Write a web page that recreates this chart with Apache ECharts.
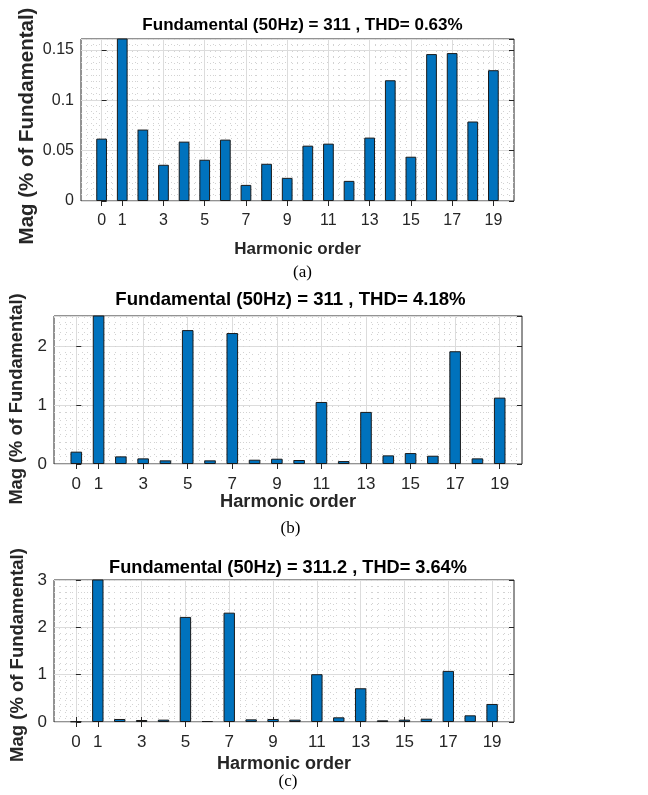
<!DOCTYPE html>
<html>
<head>
<meta charset="utf-8">
<script src="https://cdn.jsdelivr.net/npm/echarts@6/dist/echarts.min.js"></script>
<style>
html,body{margin:0;padding:0;background:#fff;}
#chart{width:648px;height:795px;}
</style>
</head>
<body>
<div id="chart"></div>
<script>
// ---- data ----
var harmonicOrder = [0,1,2,3,4,5,6,7,8,9,10,11,12,13,14,15,16,17,18,19];
var xTickLabels = [0,1,3,5,7,9,11,13,15,17,19];
var xRange = [-1, 20];

var titles = [
  'Fundamental (50Hz) = 311 , THD= 0.63%',
  'Fundamental (50Hz) = 311 , THD= 4.18%',
  'Fundamental (50Hz) = 311.2 , THD= 3.64%'
];
var captions = ['(a)', '(b)', '(c)'];
var yMax = [0.161, 2.52, 3];
var yInterval = [0.05, 1, 1];

var magA = [0.062, 100, 0.071, 0.036, 0.059, 0.041, 0.061, 0.016, 0.037, 0.023,
            0.055, 0.057, 0.020, 0.063, 0.120, 0.044, 0.146, 0.147, 0.079, 0.130];
var magB = [0.21, 100, 0.13, 0.096, 0.062, 2.28, 0.062, 2.23, 0.073, 0.09,
            0.068, 1.056, 0.05, 0.887, 0.147, 0.186, 0.141, 1.92, 0.096, 1.13];
var magC = [0.012, 100, 0.064, 0.042, 0.05, 2.22, 0.02, 2.31, 0.056, 0.064,
            0.05, 1.01, 0.099, 0.713, 0.035, 0.05, 0.07, 1.08, 0.141, 0.381];
var series = [magA, magB, magC];

// ---- layout ----
var grids = [
  {left: 81, top: 39, width: 433, height: 162, titleTop: 12, titleSize: 17, capTop: 259,
   nameGapY: 43, ySize: 20.5, yShift: 12, xGap: 40, xSize: 17, tickSize: 16},
  {left: 49, top: 316, width: 473, height: 148, titleTop: 285, titleSize: 18.6, capTop: 515,
   nameGapY: 28, ySize: 18.3, yShift: 18, xGap: 29, xSize: 18.3, tickSize: 17},
  {left: 52, top: 580, width: 462, height: 142, titleTop: 554, titleSize: 18.2, capTop: 768,
   nameGapY: 27, ySize: 18.5, yShift: 8, xGap: 33, xSize: 18, tickSize: 17}
];

var FONT = '"Liberation Sans", Arial, Helvetica, sans-serif';
var TXT = '#262626';

var cats = [];
for (var v = xRange[0]; v <= xRange[1]; v++) cats.push(String(v));
function isTick(idx, val) { return xTickLabels.indexOf(Number(val)) >= 0; }

var option = {
  backgroundColor: '#fff',
  animation: false,
  title: [], grid: [], xAxis: [], yAxis: [], series: []
};

grids.forEach(function (g, i) {
  option.grid.push({left: g.left, top: g.top, width: g.width, height: g.height,
    show: true, borderColor: '#262626', borderWidth: 1, backgroundColor: '#fff', containLabel: false});
  var cx = g.left + g.width / 2;
  option.title.push({text: titles[i], left: cx, top: g.titleTop, textAlign: 'center',
    textStyle: {fontFamily: FONT, fontWeight: 'bold', fontSize: g.titleSize, color: '#000'}});
  option.title.push({text: captions[i], left: cx, top: g.capTop, textAlign: 'center',
    textStyle: {fontFamily: '"Liberation Serif", "Times New Roman", serif', fontWeight: 'normal', fontSize: 17, color: '#000'}});

  // bottom category axis (bars, labels, ticks, major grid)
  option.xAxis.push({
    type: 'category', gridIndex: i, data: cats, boundaryGap: false, position: 'bottom',
    name: 'Harmonic order', nameLocation: 'middle', nameGap: g.xGap, nameMoveOverlap: false,
    nameTextStyle: {fontFamily: FONT, fontWeight: 'bold', fontSize: g.xSize, color: TXT},
    axisLine: {show: false},
    axisTick: {show: true, inside: true, length: 5, interval: isTick, lineStyle: {color: '#262626'}},
    axisLabel: {show: true, interval: isTick, margin: 12, fontFamily: FONT, fontSize: g.tickSize, color: TXT},
    splitLine: {show: true, interval: isTick, lineStyle: {color: '#dcdcdc', width: 1}}
  });
  // top category axis (ticks only)
  option.xAxis.push({
    type: 'category', gridIndex: i, data: cats, boundaryGap: false, position: 'top',
    axisLine: {show: false},
    axisTick: {show: true, inside: true, length: 5, interval: isTick, lineStyle: {color: '#262626'}},
    axisLabel: {show: false}, splitLine: {show: false}
  });
  // value axis for dotted minor grid
  option.xAxis.push({
    type: 'value', gridIndex: i, min: xRange[0], max: xRange[1], interval: 1, position: 'bottom',
    axisLine: {show: false}, axisTick: {show: false}, axisLabel: {show: false},
    splitLine: {show: false},
    minorTick: {show: false, splitNumber: 4},
    minorSplitLine: {show: true, lineStyle: {color: '#d2d2d2', width: 1, type: [1, 5]}}
  });

  option.yAxis.push({
    type: 'value', gridIndex: i, min: 0, max: yMax[i], interval: yInterval[i], position: 'left',
    name: 'Mag (% of Fundamental)', nameLocation: 'middle', nameGap: g.nameGapY, nameMoveOverlap: false,
    nameTextStyle: {fontFamily: FONT, fontWeight: 'bold', fontSize: g.ySize, color: TXT,
      padding: [0, g.yShift, 0, 0]},
    axisLine: {show: false},
    axisTick: {show: true, inside: true, length: 5, lineStyle: {color: '#262626'}},
    axisLabel: {show: true, margin: 7, fontFamily: FONT, fontSize: g.tickSize, color: TXT,
      showMaxLabel: (yMax[i] % yInterval[i] === 0)},
    splitLine: {show: true, lineStyle: {color: '#dcdcdc', width: 1}},
    minorTick: {show: false, splitNumber: 8},
    minorSplitLine: {show: true, lineStyle: {color: '#d2d2d2', width: 1, type: [1, 5]}}
  });
  option.yAxis.push({
    type: 'value', gridIndex: i, min: 0, max: yMax[i], interval: yInterval[i], position: 'right',
    axisLine: {show: false},
    axisTick: {show: true, inside: true, length: 5, lineStyle: {color: '#262626'}},
    axisLabel: {show: false}, splitLine: {show: false}
  });

  var data = cats.map(function (c) {
    var k = harmonicOrder.indexOf(Number(c));
    return k >= 0 ? series[i][k] : '-';
  });
  option.series.push({
    type: 'bar', xAxisIndex: i * 3, yAxisIndex: i * 2, data: data,
    barWidth: '52%', clip: true,
    itemStyle: {color: '#0072BD', borderColor: '#1a1a1a', borderWidth: 1}
  });
});

var chart = echarts.init(document.getElementById('chart'), null, {renderer: 'canvas'});
chart.setOption(option);
</script>
</body>
</html>
